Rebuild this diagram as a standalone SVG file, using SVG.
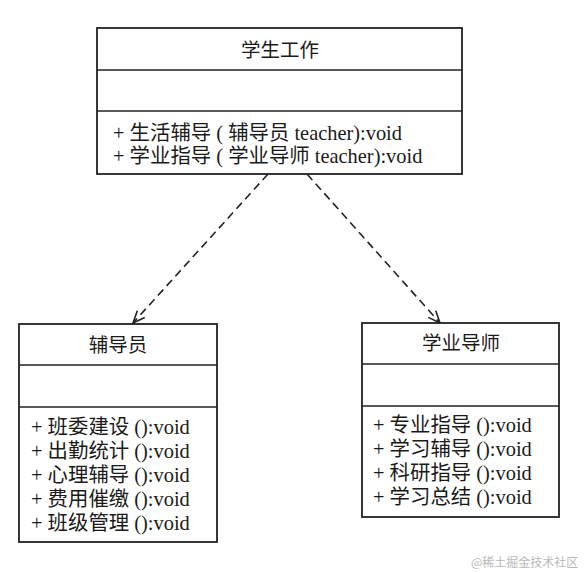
<svg xmlns="http://www.w3.org/2000/svg" width="585" height="573" viewBox="0 0 585 573">
<defs>
<style>
.box{fill:#fff;stroke:#222;stroke-width:1.8}
.div{stroke:#222;stroke-width:1.6}
.t{font-family:"Liberation Serif","Noto Sans CJK SC",serif;font-size:20.4px;fill:#1a1a1a}
.h{font-family:"Liberation Serif","Noto Sans CJK SC",serif;font-size:19.5px;fill:#1a1a1a;text-anchor:middle}
.edge{fill:none;stroke:#222;stroke-width:1.6;stroke-dasharray:8 5}
.wm{font-family:"Noto Sans CJK SC",sans-serif;font-size:12px;fill:#b8b8b8}
</style>
<marker id="open" viewBox="0 0 14 12" refX="13" refY="6" markerWidth="14" markerHeight="12" markerUnits="userSpaceOnUse" orient="auto">
<path d="M1,1 L13,6 L1,11" fill="none" stroke="#222" stroke-width="1.6"/>
</marker>
</defs>
<rect width="585" height="573" fill="#fff"/>
<g id="connectors">
<line class="edge" x1="268" y1="174" x2="133" y2="323" marker-end="url(#open)"/>
<line class="edge" x1="307" y1="174" x2="440" y2="323" marker-end="url(#open)"/>
</g>
<g id="student-work">
<rect class="box" x="97" y="28" width="365" height="146"/>
<line class="div" x1="97" y1="70" x2="462" y2="70"/>
<line class="div" x1="97" y1="111" x2="462" y2="111"/>
<text class="h" x="280" y="57">学生工作</text>
<text class="t" x="113" y="140">+ 生活辅导 ( 辅导员 teacher):void</text>
<text class="t" x="113" y="163">+ 学业指导 ( 学业导师 teacher):void</text>
</g>
<g id="counselor">
<rect class="box" x="19" y="324" width="198" height="218"/>
<line class="div" x1="19" y1="365" x2="217" y2="365"/>
<line class="div" x1="19" y1="407" x2="217" y2="407"/>
<text class="h" x="118" y="352">辅导员</text>
<text class="t" x="31" y="434">+ 班委建设 ():void</text>
<text class="t" x="31" y="458">+ 出勤统计 ():void</text>
<text class="t" x="31" y="482">+ 心理辅导 ():void</text>
<text class="t" x="31" y="506">+ 费用催缴 ():void</text>
<text class="t" x="31" y="530">+ 班级管理 ():void</text>
</g>
<g id="tutor">
<rect class="box" x="362" y="323" width="197" height="194"/>
<line class="div" x1="362" y1="364" x2="559" y2="364"/>
<line class="div" x1="362" y1="406" x2="559" y2="406"/>
<text class="h" x="461" y="350">学业导师</text>
<text class="t" x="373" y="432">+ 专业指导 ():void</text>
<text class="t" x="373" y="456">+ 学习辅导 ():void</text>
<text class="t" x="373" y="480">+ 科研指导 ():void</text>
<text class="t" x="373" y="504">+ 学习总结 ():void</text>
</g>
<text class="wm" x="471" y="567">@稀土掘金技术社区</text>
</svg>
